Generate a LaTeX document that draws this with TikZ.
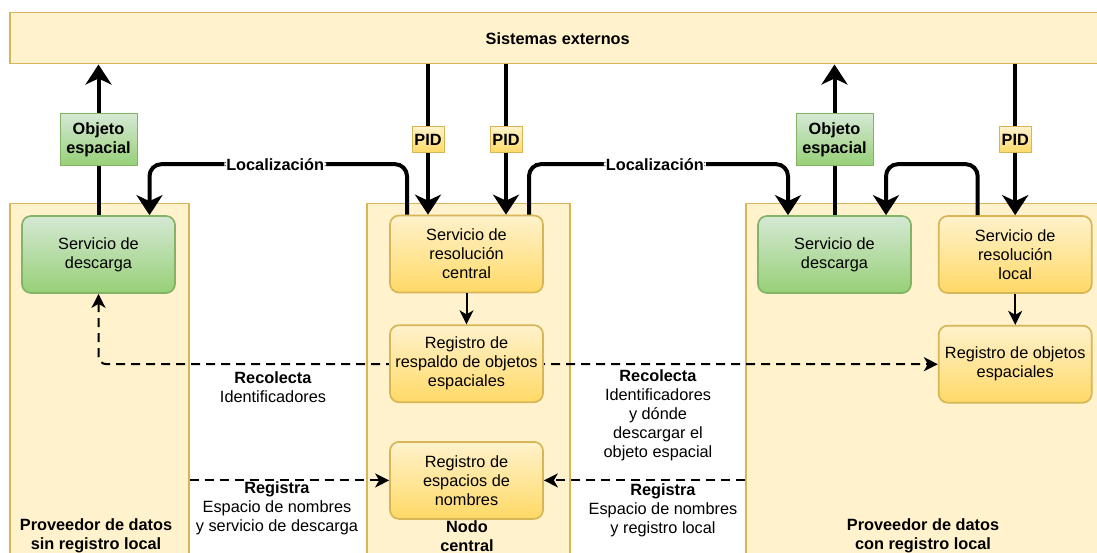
\documentclass[tikz,border=0pt]{standalone}
\usepackage{fontspec}
\setmainfont{Liberation Sans}
\usetikzlibrary{positioning,arrows.meta,backgrounds}
\definecolor{ylwfill}{HTML}{FFF2CC}
\definecolor{ylwdark}{HTML}{FFD966}
\definecolor{ylwline}{HTML}{D6B656}
\definecolor{grnfill}{HTML}{D5E8D4}
\definecolor{grndark}{HTML}{97D077}
\definecolor{grnline}{HTML}{82B366}
\pgfdeclarelayer{mid}
\pgfsetlayers{background,mid,main}

\begin{document}
\begin{tikzpicture}[x=1pt,y=-1pt,font=\fontsize{16.3}{19}\selectfont,
  box/.style={draw=ylwline,line width=1.7pt,rounded corners=9pt,top color=ylwfill,bottom color=ylwdark,minimum width=153pt,minimum height=77pt,align=center,inner sep=2pt},
  gbox/.style={box,draw=grnline,top color=grnfill,bottom color=grndark},
  group/.style={draw=ylwline,line width=1.5pt,fill=ylwfill,anchor=north west},
  heading/.style={font=\fontsize{16.3}{19}\selectfont\bfseries,align=center},
  tag/.style={heading,sharp corners,draw=ylwline,line width=1pt,top color=ylwfill,bottom color=ylwdark,inner sep=2pt,minimum width=32pt,minimum height=26pt},
  gtag/.style={tag,draw=grnline,top color=grnfill,bottom color=grndark,minimum width=77pt,minimum height=52pt},
  heavy/.style={line width=4pt,rounded corners=12pt,-{Stealth[length=20pt,width=26pt,inset=6pt]}},
  link/.style={line width=2pt,-{Stealth[length=14pt,width=14pt,inset=4pt]}},
  flow/.style={line width=2pt,dash pattern=on 9pt off 6pt,rounded corners=8pt},
  smalltip/.tip={Stealth[length=14pt,width=14pt,inset=4pt]}]
  \useasboundingbox (0,0) rectangle (1097,553);
  \clip (0,0) rectangle (1097,553);

  \begin{pgfonlayer}{background}
    \node[group,minimum width=179pt,minimum height=400pt] (grpL) at (9,203) {};
    \node[group,minimum width=203pt,minimum height=400pt] (grpC) at (366,203) {};
    \node[group,minimum width=370pt,minimum height=400pt] (grpR) at (745,203) {};
  \end{pgfonlayer}

  \node[group,heading,minimum width=1096pt,minimum height=51pt] (ext) at (9,12) {Sistemas externos};

  \node[gbox] (dlL) at (98.5,254.5) {Servicio de\\descarga};
  \node[box] (resC) at (466.5,254) {Servicio de\\resolución\\central};
  \node[box,below=31pt of resC] (bakC) {Registro de\\respaldo de objetos\\espaciales};
  \node[box,below=38pt of bakC] (nsC) {Registro de\\espacios de\\nombres};
  \node[gbox] (dlR) at (834.5,254.5) {Servicio de\\descarga};
  \node[box,right=26pt of dlR] (resR) {Servicio de\\resolución\\local};
  \node[box,below=31pt of resR] (objR) {Registro de objetos\\espaciales};

  \coordinate (pidA) at ([xshift=-38.5pt]resC.north);
  \coordinate (pidB) at ([xshift=39.5pt]resC.north);
  \coordinate (locA) at ([xshift=-59.5pt]resC.north);
  \coordinate (locB) at ([xshift=51pt]dlL.north);
  \coordinate (locC) at ([xshift=62.5pt]resC.north);
  \coordinate (locD) at ([xshift=-46.5pt]dlR.north);
  \coordinate (locE) at ([xshift=-37.5pt]resR.north);
  \coordinate (locF) at ([xshift=51.5pt]dlR.north);

  \draw[heavy] (dlL.north) -- node[gtag] (objL) {Objeto\\espacial} (dlL.north |- ext.south);
  \draw[heavy] (dlR.north) -- node[gtag] (objS) {Objeto\\espacial} (dlR.north |- ext.south);
  \draw[heavy] (pidA |- ext.south) -- node[tag] (pid1) {PID} (pidA);
  \draw[heavy] (pidB |- ext.south) -- node[tag] (pid2) {PID} (pidB);
  \draw[heavy] (resR.north |- ext.south) -- node[tag] (pid3) {PID} (resR.north);

  \draw[heavy] (locA) |- ([yshift=51pt]locB) node[pos=0.756,heading,fill=white,inner sep=2pt] (locL) {Localización} -- (locB);
  \draw[heavy] (locC) |- ([yshift=51pt]locD) node[pos=0.743,heading,fill=white,inner sep=2pt] (locR) {Localización} -- (locD);
  \draw[heavy] (locE) |- ([yshift=51pt]locF) -- (locF);

  \draw[link] (resC) -- (bakC);
  \draw[link] (resR) -- (objR);

  \begin{pgfonlayer}{mid}
    \draw[flow,smalltip-smalltip] (dlL.south) |- (objR.west);
  \end{pgfonlayer}
  \draw[flow,-smalltip] (grpL.east |- nsC.west) -- (nsC.west);
  \draw[flow,-smalltip] (grpR.west |- nsC.east) -- (nsC.east);

  \node[align=center] (recL) at (273,387) {\textbf{Recolecta}\\Identificadores};
  \node[align=center] (recR) at (658,415) {\textbf{Recolecta}\\Identificadores\\y dónde\\descargar el\\objeto espacial};
  \node[align=center] (regL) at (277,508) {\textbf{Registra}\\Espacio de nombres\\y servicio de descarga};
  \node[align=center] (regR) at (663,510) {\textbf{Registra}\\Espacio de nombres\\y registro local};

  \node[heading] (tL) at (96,536) {Proveedor de datos\\sin registro local};
  \node[heading] (tC) at (467,536) {Nodo\\central};
  \node[heading] (tR) at (923,536) {Proveedor de datos\\con registro local};
\end{tikzpicture}
\end{document}
